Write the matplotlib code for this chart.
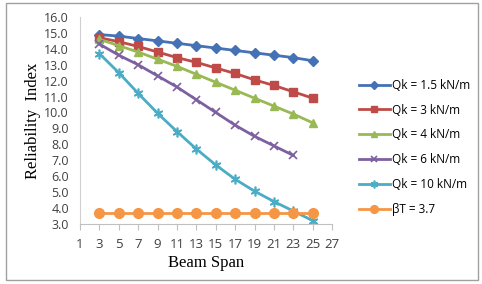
import numpy as np
import matplotlib.pyplot as plt
from matplotlib.patches import Rectangle

span = [3, 5, 7, 9, 11, 13, 15, 17, 19, 21, 23, 25]
qk15 = [14.9, 14.8, 14.65, 14.5, 14.35, 14.2, 14.05, 13.9, 13.75, 13.6, 13.45, 13.25]
qk3 = [14.7, 14.45, 14.15, 13.8, 13.45, 13.15, 12.8, 12.45, 12.05, 11.7, 11.3, 10.9]
qk4 = [14.6, 14.2, 13.8, 13.35, 12.9, 12.4, 11.9, 11.4, 10.9, 10.4, 9.9, 9.35]
qk6 = [14.3, 13.6, 13.0, 12.3, 11.6, 10.8, 10.0, 9.2, 8.5, 7.9, 7.3]
qk10 = [13.7, 12.5, 11.2, 9.95, 8.8, 7.7, 6.7, 5.8, 5.05, 4.4, 3.8, 3.2]
beta_t = [3.7] * 12

labels = ["Qk = 1.5 kN/m", "Qk = 3 kN/m", "Qk = 4 kN/m", "Qk = 6 kN/m", "Qk = 10 kN/m", "βT = 3.7"]
colors = ["#4472B4", "#BE4B48", "#98B954", "#7D60A0", "#4AACC5", "#F59645"]

fig = plt.figure(figsize=(4.82, 2.84), dpi=100)
fig.patches.append(Rectangle((0.012, 0.014), 0.98, 0.975, transform=fig.transFigure,
                             fill=False, edgecolor="#A0A0A0", lw=1.0))
ax = fig.add_axes([0.166, 0.212, 0.523, 0.728])

ax.plot(span, qk15, color=colors[0], marker="D", ms=5, lw=2, label=labels[0])
ax.plot(span, qk3, color=colors[1], marker="s", ms=6, lw=2, label=labels[1])
ax.plot(span, qk4, color=colors[2], marker="^", ms=6, lw=2, label=labels[2])
ax.plot(span[:len(qk6)], qk6, color=colors[3], marker="x", ms=6, mew=1.2, lw=2, label=labels[3])
ax.plot(span, qk10, color=colors[4], marker=(6, 2, 0), ms=7, mew=1.2, lw=2, label=labels[4])
ax.plot(span, beta_t, color=colors[5], marker="o", ms=7, lw=2, label=labels[5])

ax.set_xlim(1, 27)
ax.set_ylim(3, 16)
ax.set_xticks(np.arange(1, 28, 2))
ax.set_yticks(np.arange(3, 16.5, 1))
ax.set_yticklabels(["%.1f" % v for v in np.arange(3, 16.5, 1)])

for s in ["top", "right"]:
    ax.spines[s].set_visible(False)
ax.spines["left"].set_color("#D0D0D0")
ax.spines["bottom"].set_color("#C0C0C0")
ax.tick_params(axis="y", length=0, labelsize=9, pad=8)
ax.tick_params(axis="x", length=4, color="#C0C0C0", labelsize=9.5, pad=6)
for t in ax.get_xticklabels() + ax.get_yticklabels():
    t.set_fontfamily("Open Sans")
    t.set_color("#404040")

ax.set_xlabel("Beam Span", fontfamily="Liberation Serif", fontsize=12, labelpad=3)
ax.set_ylabel("Reliability  Index", fontfamily="Liberation Serif", fontsize=12, labelpad=2)

ax.legend(loc="center left", bbox_to_anchor=(1.065, 0.37), frameon=False,
          prop={"family": "Open Sans", "size": 8.5}, handlelength=2.6,
          labelspacing=1.0, handletextpad=0.2, markerscale=0.8)

fig.savefig("out.png", dpi=100)
